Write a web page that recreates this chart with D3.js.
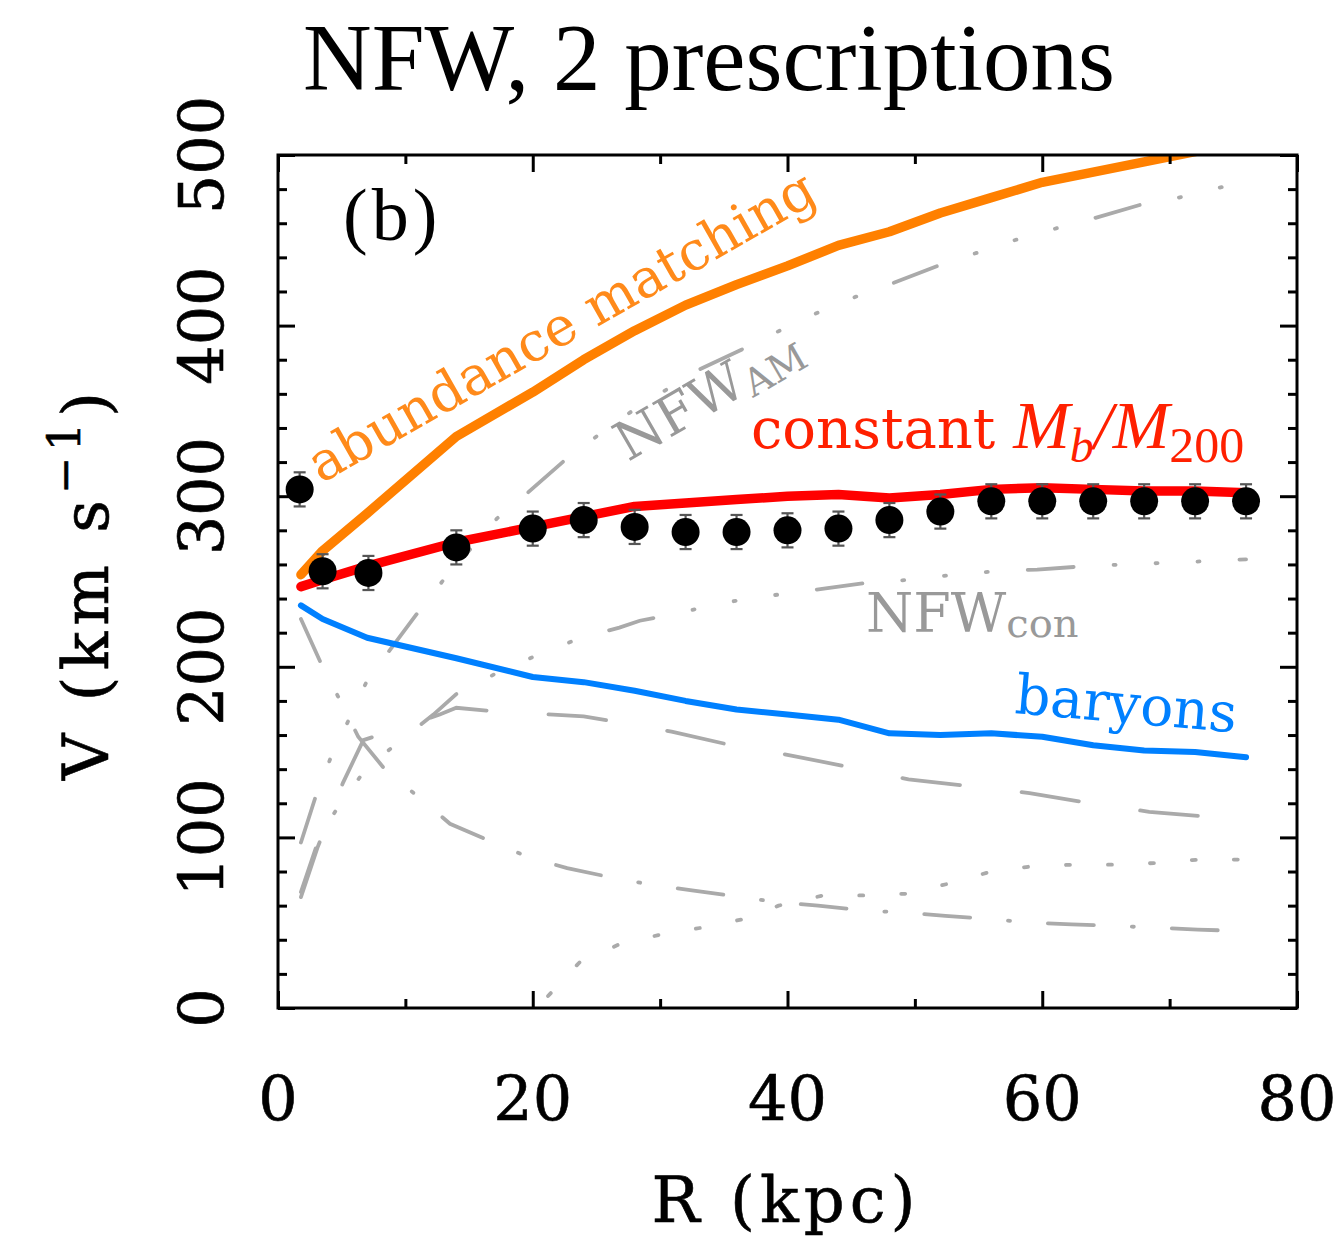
<!DOCTYPE html>
<html><head><meta charset="utf-8">
<script src="https://cdn.jsdelivr.net/npm/d3@7"></script>
<style>body{margin:0;background:#fff}</style>
</head><body>
<svg id="c" width="1343" height="1243"></svg>
<script>
// ---------------- data ----------------
const xTickLabels = [0, 20, 40, 60, 80];
const xMinorTicks = [10, 30, 50, 70];
const yTickLabels = [0, 100, 200, 300, 400, 500];
const yMinorTicks = [20,40,60,80,120,140,160,180,220,240,260,280,320,340,360,380,420,440,460,480];

const obsR   = [1.7,3.5,7.1,14,20,24,28,32,36,40,44,48,52,56,60,64,68,72,76];
const obsV   = [304,256,255,270,281,286,282,279,279,280,281,286,291,297,297,297,297,297,297];
const obsErr = [10,10,10,10,10,10,10,10,10,10,10,10,10,10,10,10,10,10,10];

const modelR  = [1.8,3.5,7,14,20,24,28,32,36,40,44,48,52,56,60,64,68,72,76];
const amTotalV  = [254,268,290,335,361,380,397,412,424,435,447,455,466,475,484,490,496,502,507];
const conTotalV = [247,251,259,273,282,288,294,296,298,300,301,299,301,304,305,304,303,303,302];
const baryonsV  = [236,228,217,205,194,191,186,180,175,172,169,161,160,161,159,154,151,150,147];

const nfwAmR = [1.8,3,4.1,5.5,7,8.7,11,13,17.2,19.6,22.5,25,28,33,36.7,39.1,42.2,45.4,48.3,51.8,54.6,57.8,61.1,64.1,67.8,70.7,74,76];
const nfwAmV = [97,125,146,168,192,209,232,251,287,302,321,335,351,374,387,396,407,417,425,435,442,450,457,463,471,475,481,484];

const nfwConR = [1.8,3.3,4.9,7,9.5,12.2,14,17.6,20.7,23.8,26.8,28.4,30.5,33.5,36.8,40,43,47,49.9,53,56.4,59.6,63.4,66.6,69.9,73.2,76];
const nfwConV = [68,101,120,141,156,172,184,198,208,217,223,227,230,235,240,243,246,250,251,254,256,257,259,260,261,262,263];

const diskR = [1.8,3.1,5.1,6.7,12.7,14,16.8,21.6,24,26.3,30.9,35.6,40.3,45,49.5,54.4,59,63.8,68.4,73.2,76];
const diskV = [65,94,132,157,172,176,174,172,171,168,162,154,148,141,134,130,126,120,115,112,110];

const bulgeR = [1.8,3.5,4.9,6.3,8.6,11,13.5,16.9,19.8,22.7,26.5,29.5,32.5,36.3,39.3,42.4,46.2,49.2,52.4,56.1,59.1,62.3,66,69.2,72.2,76];
const bulgeV = [228,200,180,159,138,124,108,97,88,82,76,72,69,65,62,60,57,56,54,52,50,49,48,47,46,45];

const gasR = [21.2,23.7,26.7,30,33.2,36.5,39.3,42.8,46.2,49.4,52.7,56,59.1,62.4,65.7,69,72.3,75.8];
const gasV = [7,27,37,43,47,52,60,66,66,67,73,80,83,84,84,85,87,87];

// ---------------- drawing ----------------
const svg = d3.select("#c");
const x = d3.scaleLinear().domain([0, 80]).range([278, 1297]);
const y = d3.scaleLinear().domain([0, 500]).range([1008, 155]);
const serif2 = "'DejaVu Serif', serif";
const times = "'Liberation Serif', 'Times New Roman', serif";

svg.append("rect").attr("width", 1343).attr("height", 1243).attr("fill", "#fff");
svg.append("defs").append("clipPath").attr("id", "pc")
  .append("rect").attr("x", x(0)).attr("y", y(500))
  .attr("width", x(80) - x(0)).attr("height", y(0) - y(500));

const plot = svg.append("g").attr("clip-path", "url(#pc)");
const line = d3.line().x(d => x(d[0])).y(d => y(d[1]));
const zip = (a, b) => a.map((v, i) => [v, b[i]]);

const grey = "#aaaaaa";
const greyLines = [
  {r: nfwAmR, v: nfwAmV, dash: "46,40,2,40,2,40,2,40"},
  {r: nfwConR, v: nfwConV, dash: "46,40,2,40,2,40,2,40"},
  {r: diskR, v: diskV, dash: "58,62"},
  {r: bulgeR, v: bulgeV, dash: "46,38,2,38"},
  {r: gasR, v: gasV, dash: "4,38"}
];
greyLines.forEach(s => {
  plot.append("path").attr("d", line(zip(s.r, s.v)))
    .attr("fill", "none").attr("stroke", grey).attr("stroke-width", 3.8)
    .attr("stroke-dasharray", s.dash).attr("stroke-linecap", "round");
});

plot.append("path").attr("d", line(zip(modelR, baryonsV)))
  .attr("fill", "none").attr("stroke", "#0080ff").attr("stroke-width", 6)
  .attr("stroke-linejoin", "round").attr("stroke-linecap", "round");
plot.append("path").attr("d", line(zip(modelR, amTotalV)))
  .attr("fill", "none").attr("stroke", "#ff8000").attr("stroke-width", 9.5)
  .attr("stroke-linejoin", "round").attr("stroke-linecap", "round");
plot.append("path").attr("d", line(zip(modelR, conTotalV)))
  .attr("fill", "none").attr("stroke", "#ff0000").attr("stroke-width", 9.5)
  .attr("stroke-linejoin", "round").attr("stroke-linecap", "round");

// data points with error bars
const pts = svg.append("g");
obsR.forEach((r, i) => {
  const cx = x(r), lo = y(obsV[i] - obsErr[i]), hi = y(obsV[i] + obsErr[i]);
  const g = pts.append("g").attr("stroke", "#555").attr("stroke-width", 2.2);
  g.append("line").attr("x1", cx).attr("x2", cx).attr("y1", lo).attr("y2", hi);
  g.append("line").attr("x1", cx - 6).attr("x2", cx + 6).attr("y1", lo).attr("y2", lo);
  g.append("line").attr("x1", cx - 6).attr("x2", cx + 6).attr("y1", hi).attr("y2", hi);
  pts.append("circle").attr("cx", cx).attr("cy", y(obsV[i])).attr("r", 14).attr("fill", "#000");
});

// frame and ticks
function tickAxis(axisFn, tr, vals, size) {
  const g = svg.append("g").attr("transform", tr)
    .call(axisFn.tickValues(vals).tickSize(-size).tickFormat(""));
  g.select(".domain").remove();
  g.selectAll(".tick line").attr("stroke", "#000").attr("stroke-width", 3);
}
tickAxis(d3.axisBottom(x), `translate(0,${y(0)})`, xTickLabels, 17);
tickAxis(d3.axisBottom(x), `translate(0,${y(0)})`, xMinorTicks, 9);
tickAxis(d3.axisTop(x), `translate(0,${y(500)})`, xTickLabels, 17);
tickAxis(d3.axisTop(x), `translate(0,${y(500)})`, xMinorTicks, 9);
tickAxis(d3.axisLeft(y), `translate(${x(0)},0)`, yTickLabels, 17);
tickAxis(d3.axisLeft(y), `translate(${x(0)},0)`, yMinorTicks, 9);
tickAxis(d3.axisRight(y), `translate(${x(80)},0)`, yTickLabels, 17);
tickAxis(d3.axisRight(y), `translate(${x(80)},0)`, yMinorTicks, 9);
svg.append("rect").attr("x", x(0)).attr("y", y(500))
  .attr("width", x(80) - x(0)).attr("height", y(0) - y(500))
  .attr("fill", "none").attr("stroke", "#000").attr("stroke-width", 3);

// tick labels
xTickLabels.forEach(v => {
  svg.append("text").attr("x", x(v)).attr("y", 1120).attr("text-anchor", "middle")
    .attr("font-family", serif2).attr("font-size", 62).attr("fill", "#000")
    .attr("stroke", "#000").attr("stroke-width", 0.6).text(v);
});
yTickLabels.forEach(v => {
  svg.append("text").attr("transform", `translate(223,${y(v)}) rotate(-90)`)
    .attr("text-anchor", "middle")
    .attr("font-family", serif2).attr("font-size", 62).attr("fill", "#000")
    .attr("stroke", "#000").attr("stroke-width", 0.6).text(v);
});

// axis titles
svg.append("text").attr("x", 786).attr("y", 1222).attr("text-anchor", "middle")
  .attr("font-family", serif2).attr("font-size", 64).attr("letter-spacing", 5).attr("fill", "#000")
  .attr("stroke", "#000").attr("stroke-width", 0.6).text("R (kpc)");
const yt = svg.append("text").attr("transform", "translate(108,780) rotate(-90)")
  .attr("text-anchor", "start").attr("font-family", serif2).attr("font-size", 64)
  .attr("letter-spacing", 6)
  .attr("fill", "#000").attr("stroke", "#000").attr("stroke-width", 0.6);
yt.append("tspan").text("V (km s");
yt.append("tspan").attr("font-size", 44).attr("dy", -28).text("−1");
yt.append("tspan").attr("dy", 28).text(")");

// title
svg.append("text").attr("x", 709).attr("y", 90).attr("text-anchor", "middle")
  .attr("font-family", times)
  .attr("font-size", 95).attr("fill", "#000").text("NFW, 2 prescriptions");

// panel label
svg.append("text").attr("x", 343).attr("y", 240)
  .attr("font-family", times).attr("font-size", 74)
  .attr("letter-spacing", 4).attr("fill", "#000").text("(b)");

// curve labels
svg.append("text").attr("transform", "translate(321,484) rotate(-29.6)")
  .attr("font-family", serif2).attr("font-size", 54).attr("fill", "#ff8a1a")
  .text("abundance matching");

const am = svg.append("text").attr("transform", "translate(628,462) rotate(-30)")
  .attr("font-family", serif2).attr("fill", "#999");
am.append("tspan").attr("font-size", 54).text("NFW");
am.append("tspan").attr("font-size", 38).attr("dy", 7).text("AM");

const con = svg.append("text").attr("x", 866).attr("y", 632)
  .attr("font-family", serif2).attr("fill", "#999");
con.append("tspan").attr("font-size", 54).text("NFW");
con.append("tspan").attr("font-size", 40).attr("dy", 5).text("con");

const cm = svg.append("text").attr("x", 751).attr("y", 448).attr("fill", "#ff2000");
cm.append("tspan").attr("font-family", serif2).attr("font-size", 56).text("constant ");
cm.append("tspan").attr("font-family", times).attr("font-style", "italic").attr("font-size", 68).text("M");
cm.append("tspan").attr("font-family", times).attr("font-style", "italic").attr("font-size", 48).attr("dy", 14).text("b");
cm.append("tspan").attr("font-family", times).attr("font-style", "italic").attr("font-size", 68).attr("dy", -14).text("/M");
cm.append("tspan").attr("font-family", times).attr("font-size", 50).attr("dy", 14).text("200");

svg.append("text").attr("transform", "translate(1014,713) rotate(5)")
  .attr("font-family", serif2).attr("font-size", 55).attr("fill", "#0080ff")
  .text("baryons");
</script></body></html>
